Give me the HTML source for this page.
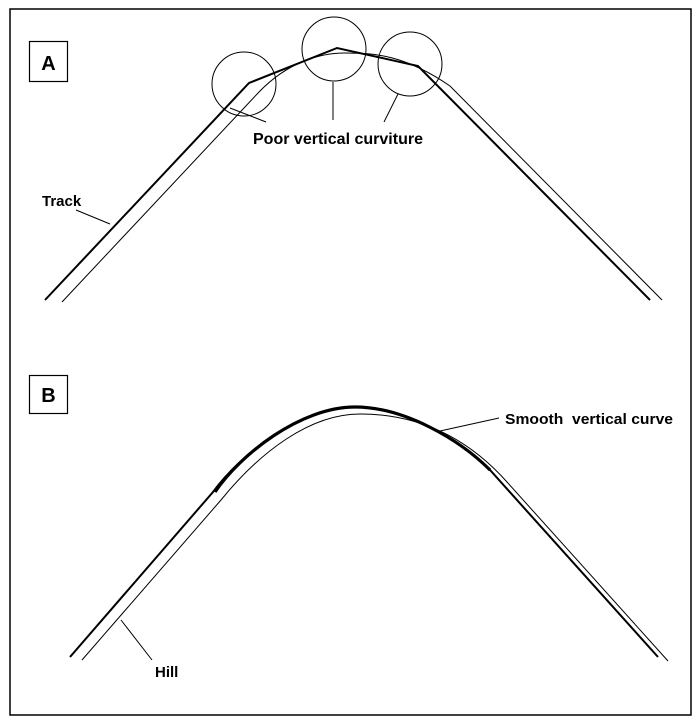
<!DOCTYPE html>
<html><head><style>
html,body{margin:0;padding:0;background:#fff;}
svg{display:block;}
text{font-family:"Liberation Sans",Arial,sans-serif;font-weight:bold;fill:#000;}
</style></head><body>
<svg width="700" height="726" viewBox="0 0 700 726" xmlns="http://www.w3.org/2000/svg">
<rect x="10" y="9" width="681" height="706" fill="none" stroke="#000" stroke-width="1.5"/>
<!-- Box A -->
<rect x="29.5" y="41.5" width="38" height="40" fill="none" stroke="#000" stroke-width="1.2"/>
<text x="48.5" y="70" font-size="20" text-anchor="middle">A</text>
<!-- A track -->
<polyline points="45,300 249,83 337,48 418,66 650,300" fill="none" stroke="#000" stroke-width="2"/>
<path d="M62,302 L259,92 C288,62 320,53 345,53 C375,53 405,55 450,86 L662,300" fill="none" stroke="#000" stroke-width="1"/>
<circle cx="244" cy="84" r="32" fill="none" stroke="#000" stroke-width="1"/>
<circle cx="334" cy="49" r="32" fill="none" stroke="#000" stroke-width="1"/>
<circle cx="410" cy="64" r="32" fill="none" stroke="#000" stroke-width="1"/>
<line x1="266" y1="122" x2="230" y2="108" stroke="#000" stroke-width="1"/>
<line x1="333" y1="120" x2="333" y2="82" stroke="#000" stroke-width="1"/>
<line x1="384" y1="122" x2="398" y2="94" stroke="#000" stroke-width="1"/>
<text x="253" y="144" font-size="16" textLength="170" lengthAdjust="spacingAndGlyphs">Poor vertical curviture</text>
<text x="42" y="206" font-size="15">Track</text>
<line x1="76" y1="210" x2="110" y2="224" stroke="#000" stroke-width="1"/>
<!-- Box B -->
<rect x="29.5" y="375.5" width="38" height="38" fill="none" stroke="#000" stroke-width="1.2"/>
<text x="48.5" y="402" font-size="20" text-anchor="middle">B</text>
<!-- B -->
<path d="M70,657 L213,492 C240,455 300,407 355,407 C405,407 460,440 490,470 L658,657" fill="none" stroke="#000" stroke-width="2"/>
<path d="M215,492 C240,455 300,407 355,407 C405,407 460,440 490,470" fill="none" stroke="#000" stroke-width="3.2"/>
<path d="M82,660 L221,500 C260,452 310,414 360,414 C415,414 465,435 507,482 L668,661" fill="none" stroke="#000" stroke-width="1"/>
<line x1="440" y1="431" x2="499" y2="418" stroke="#000" stroke-width="1"/>
<text x="505" y="424" font-size="15" textLength="168" lengthAdjust="spacingAndGlyphs">Smooth&#160; vertical curve</text>
<line x1="121" y1="620" x2="152" y2="660" stroke="#000" stroke-width="1"/>
<text x="155" y="677" font-size="15">Hill</text>
</svg>
</body></html>
